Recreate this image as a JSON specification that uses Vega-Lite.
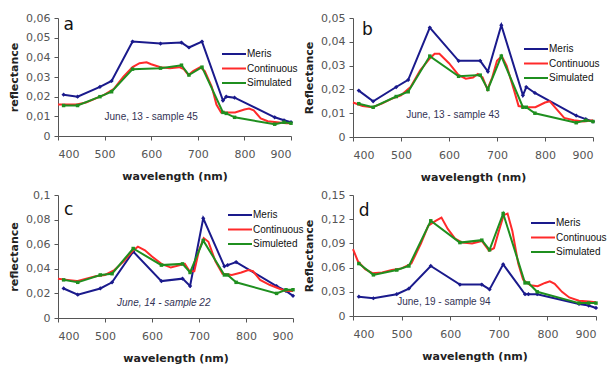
{
  "$schema": "https://vega.github.io/schema/vega-lite/v6.json",
  "padding": {"left": 8, "top": 12, "right": 5, "bottom": 2},
  "spacing": {"row": 7, "column": -1},
  "config": {
    "locale": {"number": {"decimal": ",", "thousands": ".", "grouping": [3], "currency": ["", " €"]}},
    "view": {"stroke": null},
    "font": "DejaVu Sans",
    "axis": {"grid": false, "domainColor": "#555555", "tickColor": "#555555", "labelColor": "#555555", "labelFontSize": 11, "titleFontSize": 11, "titleFontWeight": "bold", "titleColor": "#222222", "tickSize": 4, "labelPadding": 4},
    "axisX": {"labelPadding": 8, "titlePadding": 11},
    "axisY": {"titlePadding": 6},
    "legend": {"labelFontSize": 10, "labelColor": "#111111", "symbolStrokeWidth": 2, "symbolSize": 100, "rowPadding": 3.5, "labelOffset": 7, "padding": 0, "title": null, "orient": "none", "labelFont": "Liberation Sans"}
  },
  "datasets": {
    "a": [
      {"wl": 412, "refl": 0.021, "series": "Meris"}, {"wl": 442, "refl": 0.020, "series": "Meris"}, {"wl": 490, "refl": 0.025, "series": "Meris"}, {"wl": 515, "refl": 0.028, "series": "Meris"}, {"wl": 560, "refl": 0.048, "series": "Meris"}, {"wl": 620, "refl": 0.047, "series": "Meris"}, {"wl": 665, "refl": 0.0475, "series": "Meris"}, {"wl": 681, "refl": 0.045, "series": "Meris"}, {"wl": 709, "refl": 0.048, "series": "Meris"}, {"wl": 754, "refl": 0.018, "series": "Meris"}, {"wl": 761, "refl": 0.020, "series": "Meris"}, {"wl": 779, "refl": 0.0195, "series": "Meris"}, {"wl": 865, "refl": 0.0095, "series": "Meris"}, {"wl": 885, "refl": 0.008, "series": "Meris"}, {"wl": 900, "refl": 0.007, "series": "Meris"},
      {"wl": 412, "refl": 0.0155, "series": "Simulated"}, {"wl": 442, "refl": 0.0155, "series": "Simulated"}, {"wl": 490, "refl": 0.020, "series": "Simulated"}, {"wl": 515, "refl": 0.0225, "series": "Simulated"}, {"wl": 560, "refl": 0.034, "series": "Simulated"}, {"wl": 620, "refl": 0.0345, "series": "Simulated"}, {"wl": 665, "refl": 0.036, "series": "Simulated"}, {"wl": 681, "refl": 0.031, "series": "Simulated"}, {"wl": 709, "refl": 0.035, "series": "Simulated"}, {"wl": 754, "refl": 0.012, "series": "Simulated"}, {"wl": 761, "refl": 0.0115, "series": "Simulated"}, {"wl": 779, "refl": 0.0095, "series": "Simulated"}, {"wl": 865, "refl": 0.006, "series": "Simulated"}, {"wl": 885, "refl": 0.007, "series": "Simulated"}, {"wl": 900, "refl": 0.0065, "series": "Simulated"},
      {"wl": 400, "refl": 0.016, "series": "Continuous"}, {"wl": 420, "refl": 0.016, "series": "Continuous"}, {"wl": 440, "refl": 0.016, "series": "Continuous"}, {"wl": 460, "refl": 0.017, "series": "Continuous"}, {"wl": 480, "refl": 0.019, "series": "Continuous"}, {"wl": 500, "refl": 0.021, "series": "Continuous"}, {"wl": 520, "refl": 0.024, "series": "Continuous"}, {"wl": 540, "refl": 0.030, "series": "Continuous"}, {"wl": 560, "refl": 0.035, "series": "Continuous"}, {"wl": 575, "refl": 0.037, "series": "Continuous"}, {"wl": 590, "refl": 0.0375, "series": "Continuous"}, {"wl": 600, "refl": 0.0365, "series": "Continuous"}, {"wl": 620, "refl": 0.035, "series": "Continuous"}, {"wl": 640, "refl": 0.0345, "series": "Continuous"}, {"wl": 660, "refl": 0.035, "series": "Continuous"}, {"wl": 670, "refl": 0.034, "series": "Continuous"}, {"wl": 680, "refl": 0.031, "series": "Continuous"}, {"wl": 690, "refl": 0.033, "series": "Continuous"}, {"wl": 705, "refl": 0.035, "series": "Continuous"}, {"wl": 715, "refl": 0.033, "series": "Continuous"}, {"wl": 730, "refl": 0.025, "series": "Continuous"}, {"wl": 740, "refl": 0.016, "series": "Continuous"}, {"wl": 750, "refl": 0.012, "series": "Continuous"}, {"wl": 760, "refl": 0.012, "series": "Continuous"}, {"wl": 780, "refl": 0.012, "series": "Continuous"}, {"wl": 800, "refl": 0.0135, "series": "Continuous"}, {"wl": 810, "refl": 0.014, "series": "Continuous"}, {"wl": 820, "refl": 0.013, "series": "Continuous"}, {"wl": 835, "refl": 0.009, "series": "Continuous"}, {"wl": 850, "refl": 0.0075, "series": "Continuous"}, {"wl": 870, "refl": 0.007, "series": "Continuous"}, {"wl": 890, "refl": 0.0065, "series": "Continuous"}, {"wl": 900, "refl": 0.0065, "series": "Continuous"}
    ],
    "b": [
      {"wl": 412, "refl": 0.0195, "series": "Meris"}, {"wl": 442, "refl": 0.015, "series": "Meris"}, {"wl": 490, "refl": 0.021, "series": "Meris"}, {"wl": 515, "refl": 0.024, "series": "Meris"}, {"wl": 560, "refl": 0.046, "series": "Meris"}, {"wl": 620, "refl": 0.032, "series": "Meris"}, {"wl": 665, "refl": 0.032, "series": "Meris"}, {"wl": 681, "refl": 0.0275, "series": "Meris"}, {"wl": 709, "refl": 0.047, "series": "Meris"}, {"wl": 754, "refl": 0.0175, "series": "Meris"}, {"wl": 761, "refl": 0.021, "series": "Meris"}, {"wl": 779, "refl": 0.0185, "series": "Meris"}, {"wl": 865, "refl": 0.009, "series": "Meris"}, {"wl": 885, "refl": 0.0075, "series": "Meris"}, {"wl": 900, "refl": 0.0065, "series": "Meris"},
      {"wl": 412, "refl": 0.014, "series": "Simulated"}, {"wl": 442, "refl": 0.0125, "series": "Simulated"}, {"wl": 490, "refl": 0.017, "series": "Simulated"}, {"wl": 515, "refl": 0.019, "series": "Simulated"}, {"wl": 560, "refl": 0.034, "series": "Simulated"}, {"wl": 620, "refl": 0.0255, "series": "Simulated"}, {"wl": 665, "refl": 0.026, "series": "Simulated"}, {"wl": 681, "refl": 0.020, "series": "Simulated"}, {"wl": 709, "refl": 0.034, "series": "Simulated"}, {"wl": 754, "refl": 0.0125, "series": "Simulated"}, {"wl": 761, "refl": 0.0125, "series": "Simulated"}, {"wl": 779, "refl": 0.010, "series": "Simulated"}, {"wl": 865, "refl": 0.006, "series": "Simulated"}, {"wl": 885, "refl": 0.007, "series": "Simulated"}, {"wl": 900, "refl": 0.0065, "series": "Simulated"},
      {"wl": 400, "refl": 0.0145, "series": "Continuous"}, {"wl": 420, "refl": 0.013, "series": "Continuous"}, {"wl": 440, "refl": 0.0125, "series": "Continuous"}, {"wl": 460, "refl": 0.014, "series": "Continuous"}, {"wl": 480, "refl": 0.016, "series": "Continuous"}, {"wl": 500, "refl": 0.0175, "series": "Continuous"}, {"wl": 520, "refl": 0.021, "series": "Continuous"}, {"wl": 540, "refl": 0.028, "series": "Continuous"}, {"wl": 560, "refl": 0.033, "series": "Continuous"}, {"wl": 570, "refl": 0.035, "series": "Continuous"}, {"wl": 580, "refl": 0.035, "series": "Continuous"}, {"wl": 600, "refl": 0.031, "series": "Continuous"}, {"wl": 620, "refl": 0.026, "series": "Continuous"}, {"wl": 635, "refl": 0.0245, "series": "Continuous"}, {"wl": 650, "refl": 0.025, "series": "Continuous"}, {"wl": 660, "refl": 0.0265, "series": "Continuous"}, {"wl": 670, "refl": 0.025, "series": "Continuous"}, {"wl": 680, "refl": 0.020, "series": "Continuous"}, {"wl": 690, "refl": 0.025, "series": "Continuous"}, {"wl": 700, "refl": 0.032, "series": "Continuous"}, {"wl": 710, "refl": 0.034, "series": "Continuous"}, {"wl": 720, "refl": 0.030, "series": "Continuous"}, {"wl": 735, "refl": 0.020, "series": "Continuous"}, {"wl": 745, "refl": 0.013, "series": "Continuous"}, {"wl": 760, "refl": 0.0125, "series": "Continuous"}, {"wl": 780, "refl": 0.0125, "series": "Continuous"}, {"wl": 800, "refl": 0.0145, "series": "Continuous"}, {"wl": 810, "refl": 0.015, "series": "Continuous"}, {"wl": 825, "refl": 0.0115, "series": "Continuous"}, {"wl": 840, "refl": 0.008, "series": "Continuous"}, {"wl": 860, "refl": 0.007, "series": "Continuous"}, {"wl": 880, "refl": 0.0065, "series": "Continuous"}, {"wl": 900, "refl": 0.007, "series": "Continuous"}
    ],
    "c": [
      {"wl": 412, "refl": 0.024, "series": "Meris"}, {"wl": 442, "refl": 0.019, "series": "Meris"}, {"wl": 490, "refl": 0.024, "series": "Meris"}, {"wl": 515, "refl": 0.029, "series": "Meris"}, {"wl": 560, "refl": 0.054, "series": "Meris"}, {"wl": 620, "refl": 0.030, "series": "Meris"}, {"wl": 665, "refl": 0.032, "series": "Meris"}, {"wl": 681, "refl": 0.026, "series": "Meris"}, {"wl": 709, "refl": 0.081, "series": "Meris"}, {"wl": 754, "refl": 0.042, "series": "Meris"}, {"wl": 761, "refl": 0.043, "series": "Meris"}, {"wl": 779, "refl": 0.0455, "series": "Meris"}, {"wl": 865, "refl": 0.026, "series": "Meris"}, {"wl": 885, "refl": 0.022, "series": "Meris"}, {"wl": 900, "refl": 0.018, "series": "Meris"},
      {"wl": 412, "refl": 0.031, "series": "Simuleted"}, {"wl": 442, "refl": 0.029, "series": "Simuleted"}, {"wl": 490, "refl": 0.035, "series": "Simuleted"}, {"wl": 515, "refl": 0.036, "series": "Simuleted"}, {"wl": 560, "refl": 0.0565, "series": "Simuleted"}, {"wl": 620, "refl": 0.043, "series": "Simuleted"}, {"wl": 665, "refl": 0.044, "series": "Simuleted"}, {"wl": 681, "refl": 0.037, "series": "Simuleted"}, {"wl": 709, "refl": 0.063, "series": "Simuleted"}, {"wl": 754, "refl": 0.035, "series": "Simuleted"}, {"wl": 761, "refl": 0.035, "series": "Simuleted"}, {"wl": 779, "refl": 0.029, "series": "Simuleted"}, {"wl": 865, "refl": 0.020, "series": "Simuleted"}, {"wl": 885, "refl": 0.023, "series": "Simuleted"}, {"wl": 900, "refl": 0.023, "series": "Simuleted"},
      {"wl": 400, "refl": 0.032, "series": "Continuous"}, {"wl": 420, "refl": 0.031, "series": "Continuous"}, {"wl": 440, "refl": 0.030, "series": "Continuous"}, {"wl": 460, "refl": 0.032, "series": "Continuous"}, {"wl": 480, "refl": 0.034, "series": "Continuous"}, {"wl": 500, "refl": 0.035, "series": "Continuous"}, {"wl": 520, "refl": 0.039, "series": "Continuous"}, {"wl": 540, "refl": 0.046, "series": "Continuous"}, {"wl": 560, "refl": 0.055, "series": "Continuous"}, {"wl": 570, "refl": 0.058, "series": "Continuous"}, {"wl": 585, "refl": 0.055, "series": "Continuous"}, {"wl": 600, "refl": 0.050, "series": "Continuous"}, {"wl": 620, "refl": 0.044, "series": "Continuous"}, {"wl": 640, "refl": 0.041, "series": "Continuous"}, {"wl": 660, "refl": 0.043, "series": "Continuous"}, {"wl": 670, "refl": 0.044, "series": "Continuous"}, {"wl": 680, "refl": 0.038, "series": "Continuous"}, {"wl": 690, "refl": 0.038, "series": "Continuous"}, {"wl": 700, "refl": 0.055, "series": "Continuous"}, {"wl": 710, "refl": 0.065, "series": "Continuous"}, {"wl": 720, "refl": 0.062, "series": "Continuous"}, {"wl": 735, "refl": 0.046, "series": "Continuous"}, {"wl": 750, "refl": 0.036, "series": "Continuous"}, {"wl": 770, "refl": 0.035, "series": "Continuous"}, {"wl": 790, "refl": 0.037, "series": "Continuous"}, {"wl": 805, "refl": 0.039, "series": "Continuous"}, {"wl": 815, "refl": 0.038, "series": "Continuous"}, {"wl": 830, "refl": 0.031, "series": "Continuous"}, {"wl": 850, "refl": 0.027, "series": "Continuous"}, {"wl": 870, "refl": 0.024, "series": "Continuous"}, {"wl": 885, "refl": 0.022, "series": "Continuous"}, {"wl": 900, "refl": 0.022, "series": "Continuous"}
    ],
    "d": [
      {"wl": 412, "refl": 0.024, "series": "Meris"}, {"wl": 442, "refl": 0.022, "series": "Meris"}, {"wl": 490, "refl": 0.027, "series": "Meris"}, {"wl": 515, "refl": 0.034, "series": "Meris"}, {"wl": 560, "refl": 0.062, "series": "Meris"}, {"wl": 620, "refl": 0.039, "series": "Meris"}, {"wl": 665, "refl": 0.039, "series": "Meris"}, {"wl": 681, "refl": 0.033, "series": "Meris"}, {"wl": 709, "refl": 0.064, "series": "Meris"}, {"wl": 754, "refl": 0.027, "series": "Meris"}, {"wl": 761, "refl": 0.027, "series": "Meris"}, {"wl": 779, "refl": 0.027, "series": "Meris"}, {"wl": 865, "refl": 0.015, "series": "Meris"}, {"wl": 885, "refl": 0.013, "series": "Meris"}, {"wl": 900, "refl": 0.010, "series": "Meris"},
      {"wl": 412, "refl": 0.065, "series": "Simulated"}, {"wl": 442, "refl": 0.051, "series": "Simulated"}, {"wl": 490, "refl": 0.057, "series": "Simulated"}, {"wl": 515, "refl": 0.062, "series": "Simulated"}, {"wl": 560, "refl": 0.118, "series": "Simulated"}, {"wl": 620, "refl": 0.091, "series": "Simulated"}, {"wl": 665, "refl": 0.094, "series": "Simulated"}, {"wl": 681, "refl": 0.082, "series": "Simulated"}, {"wl": 709, "refl": 0.127, "series": "Simulated"}, {"wl": 754, "refl": 0.041, "series": "Simulated"}, {"wl": 761, "refl": 0.041, "series": "Simulated"}, {"wl": 779, "refl": 0.030, "series": "Simulated"}, {"wl": 865, "refl": 0.016, "series": "Simulated"}, {"wl": 885, "refl": 0.016, "series": "Simulated"}, {"wl": 900, "refl": 0.016, "series": "Simulated"},
      {"wl": 400, "refl": 0.083, "series": "Continuous"}, {"wl": 410, "refl": 0.068, "series": "Continuous"}, {"wl": 425, "refl": 0.058, "series": "Continuous"}, {"wl": 440, "refl": 0.053, "series": "Continuous"}, {"wl": 460, "refl": 0.054, "series": "Continuous"}, {"wl": 480, "refl": 0.057, "series": "Continuous"}, {"wl": 500, "refl": 0.059, "series": "Continuous"}, {"wl": 520, "refl": 0.065, "series": "Continuous"}, {"wl": 540, "refl": 0.090, "series": "Continuous"}, {"wl": 555, "refl": 0.112, "series": "Continuous"}, {"wl": 570, "refl": 0.118, "series": "Continuous"}, {"wl": 582, "refl": 0.122, "series": "Continuous"}, {"wl": 595, "refl": 0.108, "series": "Continuous"}, {"wl": 610, "refl": 0.096, "series": "Continuous"}, {"wl": 625, "refl": 0.091, "series": "Continuous"}, {"wl": 645, "refl": 0.090, "series": "Continuous"}, {"wl": 665, "refl": 0.093, "series": "Continuous"}, {"wl": 680, "refl": 0.081, "series": "Continuous"}, {"wl": 690, "refl": 0.084, "series": "Continuous"}, {"wl": 700, "refl": 0.105, "series": "Continuous"}, {"wl": 710, "refl": 0.125, "series": "Continuous"}, {"wl": 718, "refl": 0.127, "series": "Continuous"}, {"wl": 728, "refl": 0.105, "series": "Continuous"}, {"wl": 740, "refl": 0.065, "series": "Continuous"}, {"wl": 750, "refl": 0.045, "series": "Continuous"}, {"wl": 765, "refl": 0.038, "series": "Continuous"}, {"wl": 780, "refl": 0.037, "series": "Continuous"}, {"wl": 795, "refl": 0.041, "series": "Continuous"}, {"wl": 805, "refl": 0.043, "series": "Continuous"}, {"wl": 815, "refl": 0.040, "series": "Continuous"}, {"wl": 830, "refl": 0.030, "series": "Continuous"}, {"wl": 845, "refl": 0.023, "series": "Continuous"}, {"wl": 865, "refl": 0.019, "series": "Continuous"}, {"wl": 885, "refl": 0.018, "series": "Continuous"}, {"wl": 900, "refl": 0.017, "series": "Continuous"}
    ],
    "labels": [
      {"panel": "a", "kind": "letter", "wl": 412, "refl": 0.0564, "label": "a"},
      {"panel": "a", "kind": "note", "wl": 600, "refl": 0.0097, "label": "June, 13 - sample 45"},
      {"panel": "b", "kind": "letter", "wl": 419, "refl": 0.045, "label": "b"},
      {"panel": "b", "kind": "note", "wl": 608, "refl": 0.0092, "label": "June, 13 - sample 43"},
      {"panel": "c", "kind": "letter", "wl": 413, "refl": 0.0878, "label": "c"},
      {"panel": "c", "kind": "note", "wl": 625, "refl": 0.0122, "label": "June, 14 - sample 22"},
      {"panel": "d", "kind": "letter", "wl": 412, "refl": 0.1306, "label": "d"},
      {"panel": "d", "kind": "note", "wl": 587, "refl": 0.0168, "label": "June, 19 - sample 94"}
    ]
  },
  "columns": 2,
  "resolve": {"scale": {"color": "independent"}, "legend": {"color": "independent"}},
  "concat": [
    {
      "width": 233, "height": 118,
      "data": {"name": "a"},
      "encoding": {
        "x": {"field": "wl", "type": "quantitative", "scale": {"domain": [400, 900], "nice": false}, "axis": {"values": [400, 500, 600, 700, 800, 900], "title": "wavelength (nm)"}},
        "y": {"field": "refl", "type": "quantitative", "scale": {"domain": [0, 0.06], "nice": false}, "axis": {"values": [0, 0.01, 0.02, 0.03, 0.04, 0.05, 0.06], "format": ".2~f", "title": "reflectance"}}
      },
      "layer": [
        {"transform": [{"filter": "datum.series === 'Meris'"}], "mark": {"type": "line", "strokeWidth": 2, "point": {"shape": "diamond", "size": 18, "filled": true}},
         "encoding": {"color": {"field": "series", "type": "nominal", "scale": {"domain": ["Meris", "Continuous", "Simulated"], "range": ["#1a1a8c", "#ff2a2a", "#1f8f1f"]}, "legend": {"symbolType": "M-2.4,0H2.4", "legendX": 170, "legendY": 30}}}},
        {"transform": [{"filter": "datum.series === 'Continuous'"}], "mark": {"type": "line", "strokeWidth": 2},
         "encoding": {"color": {"field": "series", "type": "nominal"}}},
        {"transform": [{"filter": "datum.series === 'Simulated'"}], "mark": {"type": "line", "strokeWidth": 2, "point": {"shape": "square", "size": 12, "filled": true}},
         "encoding": {"color": {"field": "series", "type": "nominal"}}},
        {"data": {"name": "labels"}, "transform": [{"filter": "datum.panel === 'a' && datum.kind === 'letter'"}], "mark": {"type": "text", "align": "left", "baseline": "middle", "fontSize": 17, "color": "#111111"}, "encoding": {"text": {"field": "label"}}},
        {"data": {"name": "labels"}, "transform": [{"filter": "datum.panel === 'a' && datum.kind === 'note'"}], "mark": {"type": "text", "align": "center", "baseline": "middle", "fontSize": 10, "font": "Liberation Sans", "color": "#333355"}, "encoding": {"text": {"field": "label"}}}
      ]
    },
    {
      "width": 240, "height": 119,
      "data": {"name": "b"},
      "encoding": {
        "x": {"field": "wl", "type": "quantitative", "scale": {"domain": [400, 900], "nice": false}, "axis": {"values": [400, 500, 600, 700, 800, 900], "title": "wavelength (nm)"}},
        "y": {"field": "refl", "type": "quantitative", "scale": {"domain": [0, 0.05], "nice": false}, "axis": {"values": [0, 0.01, 0.02, 0.03, 0.04, 0.05], "format": ".2~f", "title": "Reflectance"}}
      },
      "layer": [
        {"transform": [{"filter": "datum.series === 'Meris'"}], "mark": {"type": "line", "strokeWidth": 2, "point": {"shape": "diamond", "size": 18, "filled": true}},
         "encoding": {"color": {"field": "series", "type": "nominal", "scale": {"domain": ["Meris", "Continuous", "Simulated"], "range": ["#1a1a8c", "#ff2a2a", "#1f8f1f"]}, "legend": {"symbolType": "M-2.4,0H2.4", "legendX": 177, "legendY": 25}}}},
        {"transform": [{"filter": "datum.series === 'Continuous'"}], "mark": {"type": "line", "strokeWidth": 2},
         "encoding": {"color": {"field": "series", "type": "nominal"}}},
        {"transform": [{"filter": "datum.series === 'Simulated'"}], "mark": {"type": "line", "strokeWidth": 2, "point": {"shape": "square", "size": 12, "filled": true}},
         "encoding": {"color": {"field": "series", "type": "nominal"}}},
        {"data": {"name": "labels"}, "transform": [{"filter": "datum.panel === 'b' && datum.kind === 'letter'"}], "mark": {"type": "text", "align": "left", "baseline": "middle", "fontSize": 17, "color": "#111111"}, "encoding": {"text": {"field": "label"}}},
        {"data": {"name": "labels"}, "transform": [{"filter": "datum.panel === 'b' && datum.kind === 'note'"}], "mark": {"type": "text", "align": "center", "baseline": "middle", "fontSize": 10, "font": "Liberation Sans", "color": "#333355"}, "encoding": {"text": {"field": "label"}}}
      ]
    },
    {
      "width": 235, "height": 123,
      "data": {"name": "c"},
      "encoding": {
        "x": {"field": "wl", "type": "quantitative", "scale": {"domain": [400, 900], "nice": false}, "axis": {"values": [400, 500, 600, 700, 800, 900], "title": "wavelength (nm)"}},
        "y": {"field": "refl", "type": "quantitative", "scale": {"domain": [0, 0.1], "nice": false}, "axis": {"values": [0, 0.02, 0.04, 0.06, 0.08, 0.1], "format": ".2~f", "title": "reflectance"}}
      },
      "layer": [
        {"transform": [{"filter": "datum.series === 'Meris'"}], "mark": {"type": "line", "strokeWidth": 2, "point": {"shape": "diamond", "size": 18, "filled": true}},
         "encoding": {"color": {"field": "series", "type": "nominal", "scale": {"domain": ["Meris", "Continuous", "Simuleted"], "range": ["#1a1a8c", "#ff2a2a", "#1f8f1f"]}, "legend": {"symbolType": "M-2.4,0H2.4", "legendX": 176, "legendY": 14}}}},
        {"transform": [{"filter": "datum.series === 'Continuous'"}], "mark": {"type": "line", "strokeWidth": 2},
         "encoding": {"color": {"field": "series", "type": "nominal"}}},
        {"transform": [{"filter": "datum.series === 'Simuleted'"}], "mark": {"type": "line", "strokeWidth": 2, "point": {"shape": "square", "size": 12, "filled": true}},
         "encoding": {"color": {"field": "series", "type": "nominal"}}},
        {"data": {"name": "labels"}, "transform": [{"filter": "datum.panel === 'c' && datum.kind === 'letter'"}], "mark": {"type": "text", "align": "left", "baseline": "middle", "fontSize": 17, "color": "#111111"}, "encoding": {"text": {"field": "label"}}},
        {"data": {"name": "labels"}, "transform": [{"filter": "datum.panel === 'c' && datum.kind === 'note'"}], "mark": {"type": "text", "align": "center", "baseline": "middle", "fontSize": 10, "font": "Liberation Sans", "fontStyle": "italic", "color": "#333355"}, "encoding": {"text": {"field": "label"}}}
      ]
    },
    {
      "width": 243, "height": 121,
      "data": {"name": "d"},
      "encoding": {
        "x": {"field": "wl", "type": "quantitative", "scale": {"domain": [400, 900], "nice": false}, "axis": {"values": [400, 500, 600, 700, 800, 900], "title": "wavelength (nm)"}},
        "y": {"field": "refl", "type": "quantitative", "scale": {"domain": [0, 0.15], "nice": false}, "axis": {"values": [0, 0.03, 0.06, 0.09, 0.12, 0.15], "format": ".2~f", "title": "Reflectance"}}
      },
      "layer": [
        {"transform": [{"filter": "datum.series === 'Meris'"}], "mark": {"type": "line", "strokeWidth": 2, "point": {"shape": "diamond", "size": 18, "filled": true}},
         "encoding": {"color": {"field": "series", "type": "nominal", "scale": {"domain": ["Meris", "Continuous", "Simulated"], "range": ["#1a1a8c", "#ff2a2a", "#1f8f1f"]}, "legend": {"symbolType": "M-2.4,0H2.4", "legendX": 184, "legendY": 22}}}},
        {"transform": [{"filter": "datum.series === 'Continuous'"}], "mark": {"type": "line", "strokeWidth": 2},
         "encoding": {"color": {"field": "series", "type": "nominal"}}},
        {"transform": [{"filter": "datum.series === 'Simulated'"}], "mark": {"type": "line", "strokeWidth": 2, "point": {"shape": "square", "size": 12, "filled": true}},
         "encoding": {"color": {"field": "series", "type": "nominal"}}},
        {"data": {"name": "labels"}, "transform": [{"filter": "datum.panel === 'd' && datum.kind === 'letter'"}], "mark": {"type": "text", "align": "left", "baseline": "middle", "fontSize": 17, "color": "#111111"}, "encoding": {"text": {"field": "label"}}},
        {"data": {"name": "labels"}, "transform": [{"filter": "datum.panel === 'd' && datum.kind === 'note'"}], "mark": {"type": "text", "align": "center", "baseline": "middle", "fontSize": 10, "font": "Liberation Sans", "color": "#333355"}, "encoding": {"text": {"field": "label"}}}
      ]
    }
  ]
}
